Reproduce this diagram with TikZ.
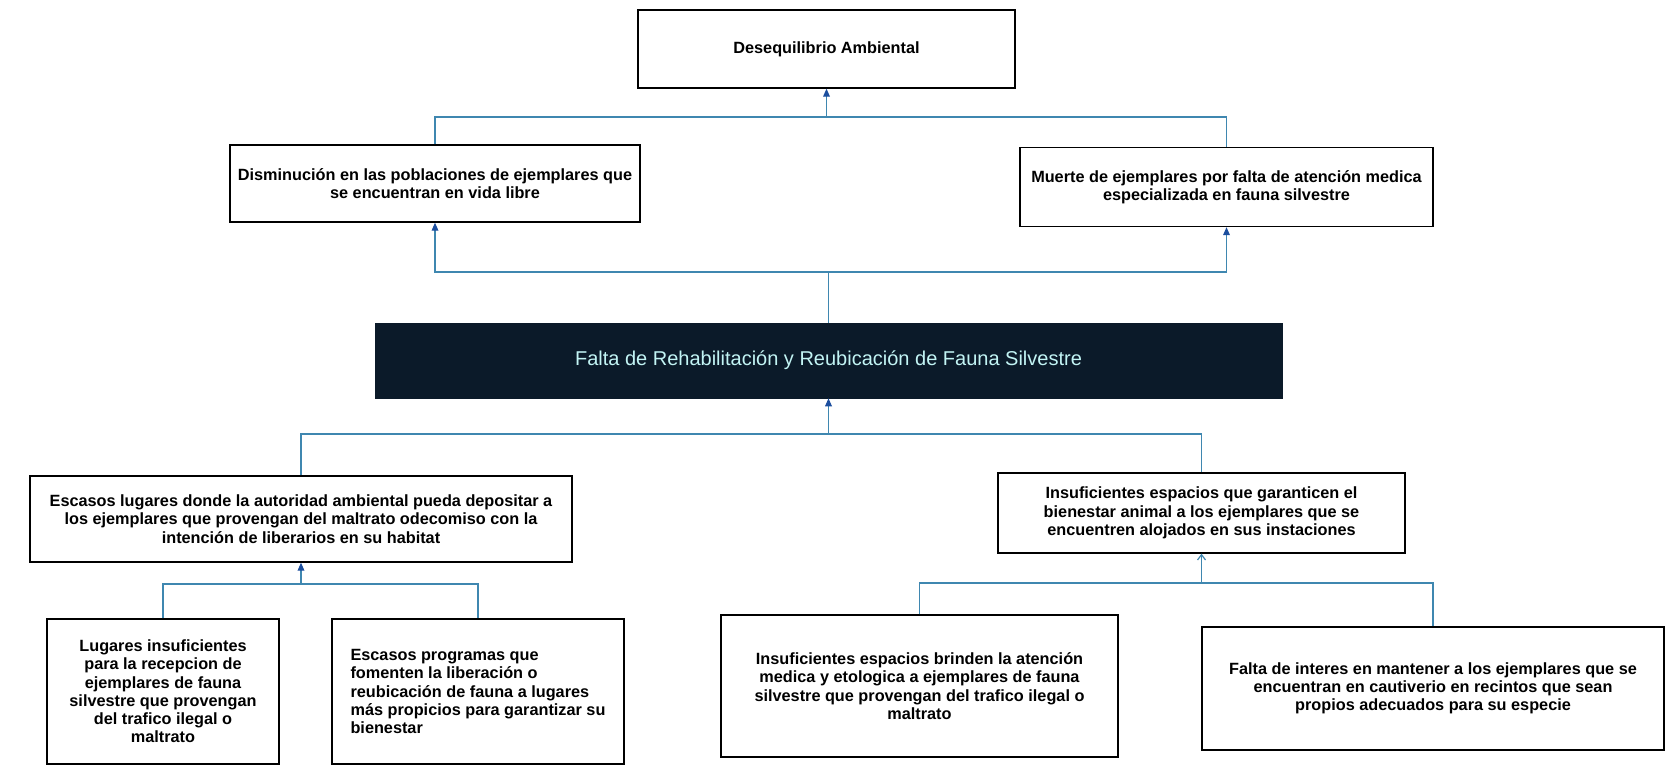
\documentclass[tikz,border=0pt]{standalone}
\usepackage{fontspec}
\setmainfont{Liberation Sans}
\usepackage{tikz}
\usepackage{xcolor}
\usetikzlibrary{arrows.meta, positioning}
\definecolor{lineaazul}{HTML}{3F87B0}
\definecolor{puntaazul}{HTML}{1C4E9E}
\definecolor{fondoosc}{HTML}{0B1A29}
\definecolor{textoclaro}{HTML}{C2F4F4}

\begin{document}
\begin{tikzpicture}[x=0.75pt, y=-0.75pt,
  caja/.style={draw, line width=1pt, fill=white, align=center, inner sep=3pt,
    font=\fontsize{12.2}{13.7}\selectfont\bfseries},
  linea/.style={lineaazul, line width=0.9pt},
  flecha/.style={lineaazul, line width=0.9pt, -{Triangle[length=6pt, width=5pt, color=puntaazul]}},
  abierta/.style={lineaazul, line width=0.9pt, -{Straight Barb[length=4pt, width=6pt]}}]
\useasboundingbox (0,0) rectangle (1666,766);
% efecto final
\node[caja, minimum width=282.75pt, minimum height=58.5pt] (des) at (826.5,49) {Desequilibrio Ambiental};
% efectos
\node[caja, minimum width=307.5pt, minimum height=57.75pt] (dis) at (435,183.5) {Disminución en las poblaciones de ejemplares que\\se encuentran en vida libre};
\node[caja, minimum width=309.75pt, minimum height=59.25pt] (mue) at (1226.5,187) {Muerte de ejemplares por falta de atención medica\\especializada en fauna silvestre};
% problema central
\node[draw=fondoosc, fill=fondoosc, text=textoclaro, font=\fontsize{15}{17}\selectfont, minimum width=680.25pt, minimum height=56.25pt] (falta) at (828.5,360.5) {Falta de Rehabilitación y Reubicación de Fauna Silvestre};
% causas
\node[caja, minimum width=406.5pt, minimum height=64.5pt] (esc) at (301,519) {Escasos lugares donde la autoridad ambiental pueda depositar a\\los ejemplares que provengan del maltrato odecomiso con la\\intención de liberarios en su habitat};
\node[caja, minimum width=305.25pt, minimum height=60pt] (ins) at (1201.5,513) {Insuficientes espacios que garanticen el\\bienestar animal a los ejemplares que se\\encuentren alojados en sus instaciones};
% subcausas
\node[caja, minimum width=174pt, minimum height=108.75pt] (lug) at (163,691.5) {Lugares insuficientes\\para la recepcion de\\ejemplares de fauna\\silvestre que provengan\\del trafico ilegal o\\maltrato};
\node[caja, align=left, minimum width=219pt, minimum height=108.75pt] (prog) at (478,691.5) {Escasos programas que\\fomenten la liberación o\\reubicación de fauna a lugares\\más propicios para garantizar su\\bienestar};
\node[caja, minimum width=297.75pt, minimum height=106.5pt] (esp) at (919.5,686) {Insuficientes espacios brinden la atención\\medica y etologica a ejemplares de fauna\\silvestre que provengan del trafico ilegal o\\maltrato};
\node[caja, minimum width=346.5pt, minimum height=92.25pt] (int) at (1433,688.5) {Falta de interes en mantener a los ejemplares que se\\encuentran en cautiverio en recintos que sean\\propios adecuados para su especie};
% conectores
\coordinate (b1) at (826.5,117);
\coordinate (b2) at (828.5,272);
\coordinate (b3) at (828.5,434);
\coordinate (b4) at (301,584);
\coordinate (b5) at (1201.5,583);
\draw[linea] (dis.north) |- (b1) -| (mue.north);
\draw[flecha] (b1) -- (des.south);
\draw[linea] (falta.north) -- (b2);
\draw[flecha] (b2) -| (dis.south);
\draw[flecha] (b2) -| (mue.south);
\draw[linea] (esc.north) |- (b3) -| (ins.north);
\draw[flecha] (b3) -- (falta.south);
\draw[linea] (lug.north) |- (b4) -| (prog.north);
\draw[flecha] (b4) -- (esc.south);
\draw[linea] (esp.north) |- (b5) -| (int.north);
\draw[abierta] (b5) -- (ins.south);
\end{tikzpicture}
\end{document}
